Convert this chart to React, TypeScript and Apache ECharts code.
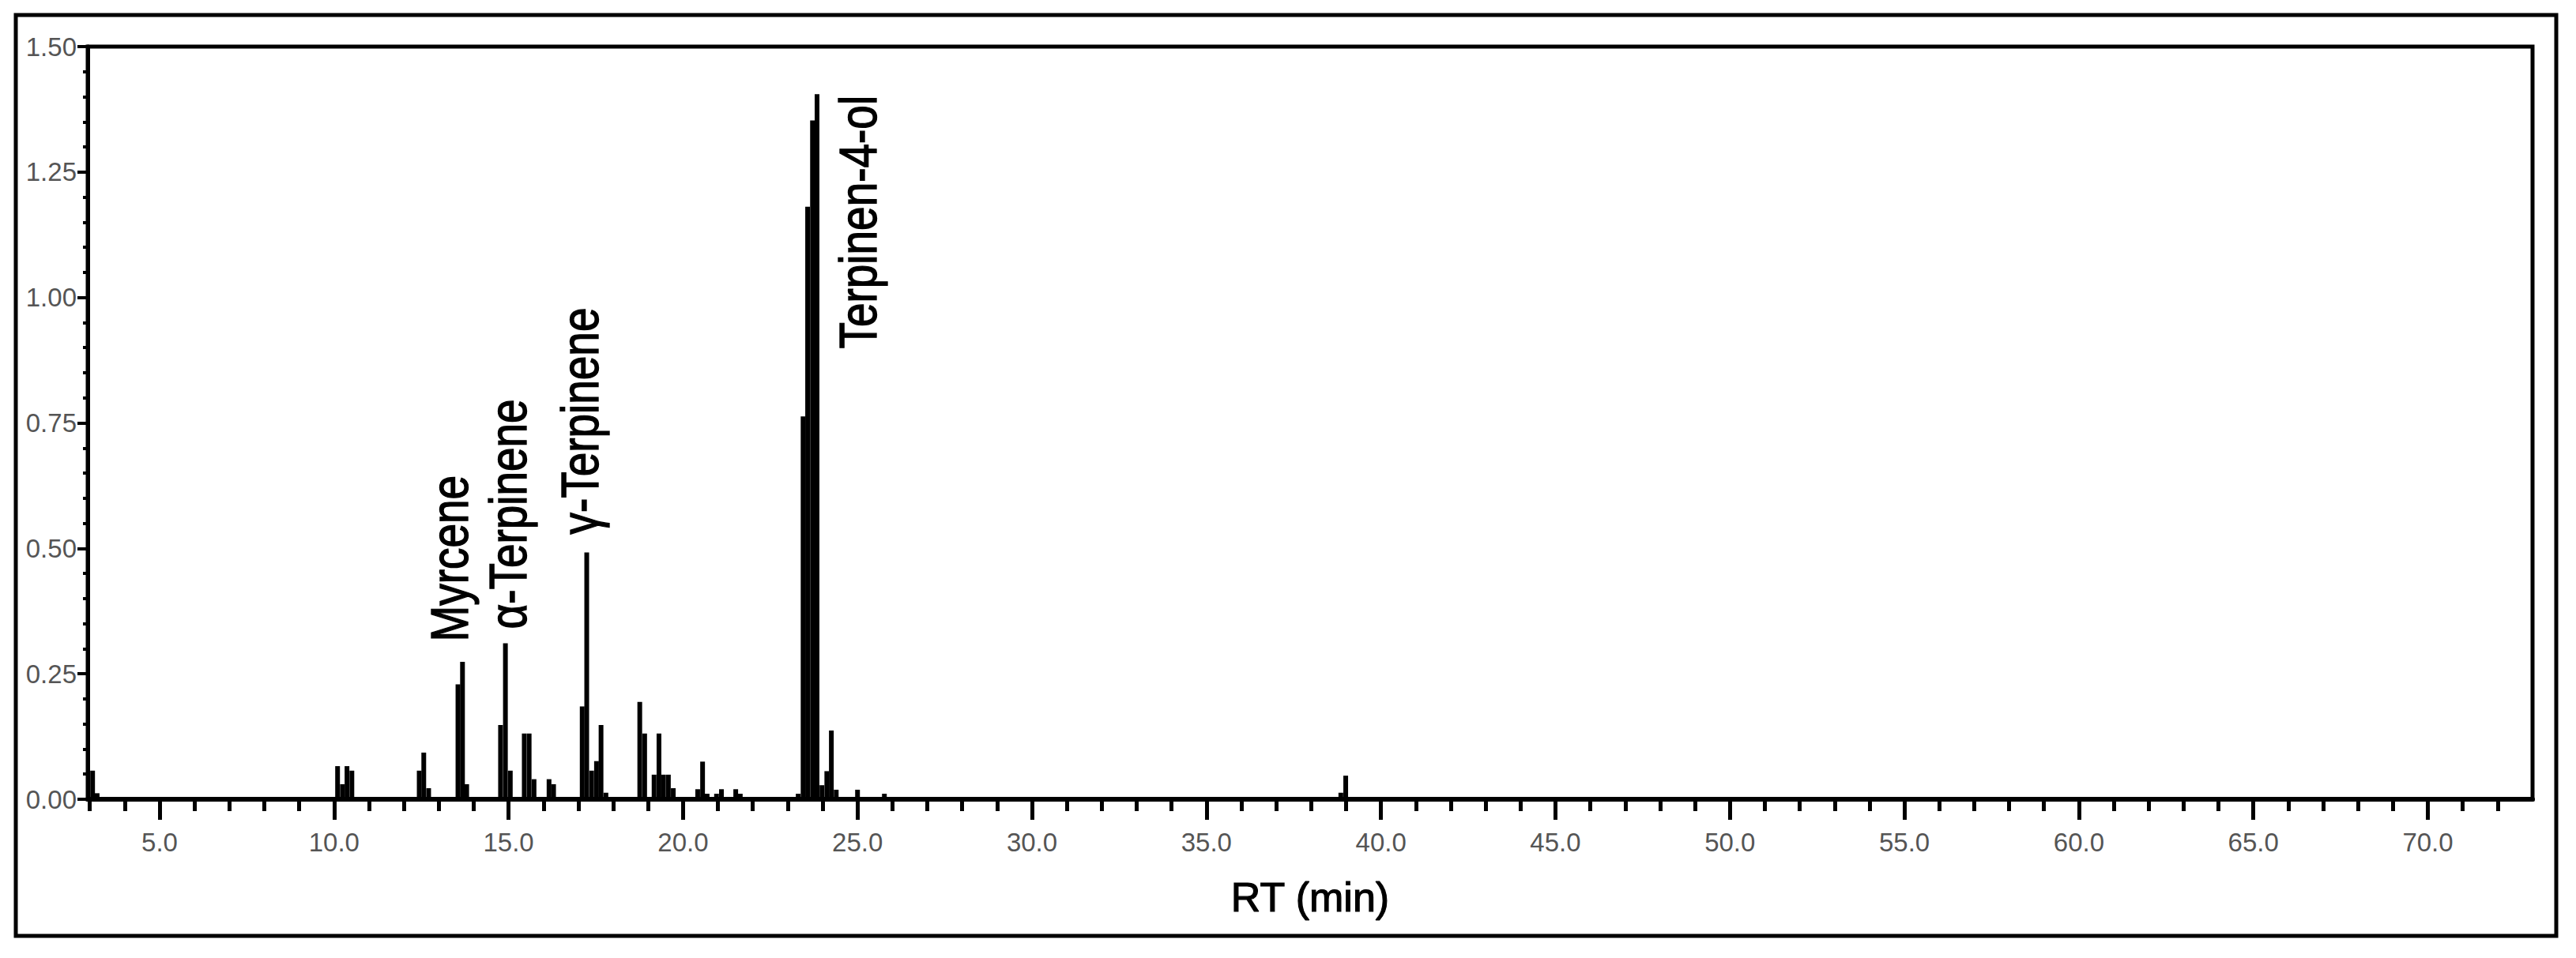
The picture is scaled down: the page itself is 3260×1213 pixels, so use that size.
import React, { useEffect, useRef } from "react";
import * as echarts from "echarts";

// Retention times (min) of the chromatogram sticks and their intensities
const peakRT = [
  3.08, 3.21,
  10.1, 10.24, 10.37, 10.51,
  12.44, 12.57, 12.71,
  13.55, 13.68, 13.8,
  14.77, 14.91, 15.05,
  15.45, 15.59, 15.73,
  16.16, 16.29,
  17.11, 17.24, 17.38, 17.52, 17.65, 17.79,
  18.76, 18.9, 19.17, 19.31, 19.44, 19.58, 19.72,
  20.42, 20.56, 20.69,
  20.96, 21.1,
  21.51, 21.64,
  23.3, 23.44, 23.57, 23.71, 23.84, 23.98, 24.12, 24.25, 24.39,
  25.0, 25.77,
  38.85, 38.99,
];
const peakIntensity = [
  0.057, 0.012,
  0.066, 0.03, 0.066, 0.057,
  0.057, 0.093, 0.022,
  0.229, 0.274, 0.03,
  0.148, 0.311, 0.057,
  0.131, 0.131, 0.04,
  0.04, 0.03,
  0.185, 0.492, 0.057, 0.076, 0.148, 0.013,
  0.194, 0.131, 0.049, 0.131, 0.049, 0.049, 0.022,
  0.02, 0.075, 0.011,
  0.011, 0.02,
  0.02, 0.011,
  0.011, 0.763, 1.181, 1.353, 1.405, 0.028, 0.056, 0.137, 0.019,
  0.019, 0.011,
  0.013, 0.047,
];

// Compound annotations: name, RT where the label sits, intensity where it starts
const labelNames = ["Myrcene", "α-Terpinene", "γ-Terpinene", "Terpinen-4-ol"];
const labelRT = [13.32, 14.99, 17.04, 25.02];
const labelStart = [0.314, 0.339, 0.528, 0.898];

// Axis ticks
const xMajorTicks = [5, 10, 15, 20, 25, 30, 35, 40, 45, 50, 55, 60, 65, 70];
const xMinorTicks = [
  3, 4, 6, 7, 8, 9, 11, 12, 13, 14, 16, 17, 18, 19, 21, 22, 23, 24, 26, 27, 28, 29,
  31, 32, 33, 34, 36, 37, 38, 39, 41, 42, 43, 44, 46, 47, 48, 49, 51, 52, 53, 54,
  56, 57, 58, 59, 61, 62, 63, 64, 66, 67, 68, 69, 71, 72,
];
const X_MIN = 2.94;
const X_MAX = 73.0;
const Y_MAX = 1.5;
const Y_STEP = 0.25;

const SANS = "'Liberation Sans', Arial, sans-serif";

export default function App() {
  const ref = useRef<HTMLDivElement>(null);

  useEffect(() => {
    if (!ref.current) return;
    const chart = echarts.init(ref.current, undefined, { renderer: "svg" });

    const bars = peakRT.map((t, i) => [t, peakIntensity[i]]);
    const labels = labelNames.map((_, i) => [labelRT[i], labelStart[i]]);

    chart.setOption({
      animation: false,
      backgroundColor: "#ffffff",
      grid: {
        left: 111,
        right: 55,
        top: 59,
        bottom: 201,
        show: true,
        borderColor: "#000",
        borderWidth: 5,
        backgroundColor: "transparent",
      },
      graphic: [
        {
          type: "rect",
          shape: { x: 20, y: 19, width: 3215, height: 1166 },
          style: { fill: "none", stroke: "#000", lineWidth: 5 },
          silent: true,
        },
      ],
      xAxis: [
        {
          type: "value",
          min: X_MIN,
          max: X_MAX,
          position: "bottom",
          name: "RT (min)",
          nameLocation: "middle",
          nameGap: 98,
          nameTextStyle: {
            fontFamily: SANS,
            fontSize: 52,
            color: "#000",
            textBorderColor: "#000",
            textBorderWidth: 1.2,
          },
          axisLine: { show: true, onZero: false, lineStyle: { color: "#000", width: 6 } },
          axisTick: {
            show: true,
            inside: false,
            length: 26,
            customValues: xMajorTicks,
            lineStyle: { color: "#000", width: 5 },
          },
          axisLabel: {
            show: true,
            customValues: xMajorTicks,
            margin: 38,
            fontFamily: SANS,
            fontSize: 33,
            color: "#555",
            formatter: (v: number) => v.toFixed(1),
          },
          splitLine: { show: false },
        },
        {
          type: "value",
          min: X_MIN,
          max: X_MAX,
          position: "bottom",
          axisLine: { show: false },
          axisTick: {
            show: true,
            inside: false,
            length: 15,
            customValues: xMinorTicks,
            lineStyle: { color: "#000", width: 5 },
          },
          axisLabel: { show: false },
          splitLine: { show: false },
        },
      ],
      yAxis: {
        type: "value",
        min: 0,
        max: Y_MAX,
        interval: Y_STEP,
        axisLine: { show: true, onZero: false, lineStyle: { color: "#000", width: 5 } },
        axisTick: { show: true, inside: false, length: 13, lineStyle: { color: "#000", width: 4 } },
        minorTick: { show: true, splitNumber: 5, length: 6, lineStyle: { color: "#000", width: 4 } },
        axisLabel: {
          margin: 14,
          fontFamily: SANS,
          fontSize: 33,
          color: "#555",
          formatter: (v: number) => v.toFixed(2),
        },
        splitLine: { show: false },
        minorSplitLine: { show: false },
      },
      series: [
        {
          type: "bar",
          xAxisIndex: 0,
          yAxisIndex: 0,
          data: bars,
          barWidth: 6,
          itemStyle: { color: "#000" },
          silent: true,
        },
        {
          type: "custom",
          xAxisIndex: 0,
          yAxisIndex: 0,
          data: labels,
          silent: true,
          clip: false,
          renderItem: (params: any, api: any) => {
            const p = api.coord([api.value(0), api.value(1)]);
            return {
              type: "text",
              x: p[0],
              y: p[1],
              rotation: Math.PI / 2,
              scaleX: 0.82,
              style: {
                text: labelNames[params.dataIndex],
                fontFamily: SANS,
                fontSize: 67,
                fill: "#000",
                stroke: "#000",
                lineWidth: 1.4,
                align: "left",
                verticalAlign: "middle",
              },
            };
          },
        },
      ],
    });

    return () => chart.dispose();
  }, []);

  return (
    <div
      ref={ref}
      style={{ position: "absolute", left: 0, top: 0, width: 3260, height: 1213, background: "#fff" }}
    />
  );
}
